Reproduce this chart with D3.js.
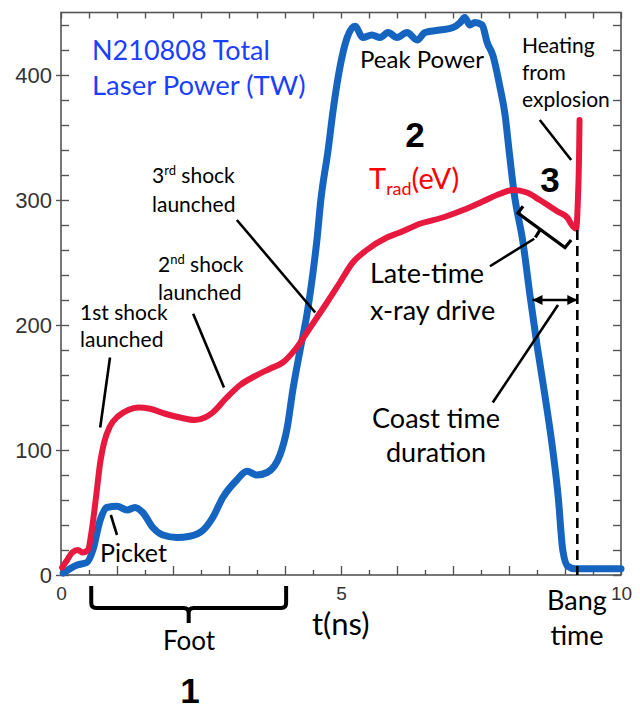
<!DOCTYPE html>
<html>
<head>
<meta charset="utf-8">
<script src="https://cdn.jsdelivr.net/npm/d3@7"></script>
<style>
  body { margin: 0; background: #fff; }
  svg { display: block; }
</style>
</head>
<body>
<svg id="chart" width="640" height="709"></svg>
<script>
// N210808 total laser power (TW) against time (ns)
const laserTime = [0.04, 0.29, 0.46, 0.57, 0.70, 0.82, 1.00, 1.18, 1.32, 1.46, 1.64, 1.82, 2.07, 2.30, 2.54, 2.71, 2.89, 3.14, 3.32, 3.50, 3.68, 3.91, 4.04, 4.14, 4.27, 4.39, 4.50, 4.57, 4.64, 4.77, 4.86, 4.98, 5.11, 5.25, 5.39, 5.55, 5.70, 5.84, 6.00, 6.18, 6.36, 6.50, 6.77, 7.00, 7.13, 7.21, 7.30, 7.39, 7.52, 7.61, 7.71, 7.84, 7.93, 8.00, 8.09, 8.25, 8.38, 8.50, 8.64, 8.77, 8.88, 8.96, 9.05, 9.18, 10.0];
const laserPower = [1.5, 8, 10, 20, 44, 54, 55, 52, 54, 50, 38, 32, 30, 31, 36, 46, 62, 76, 83, 80, 82, 96, 118, 148, 180, 208, 242, 268, 300, 340, 372, 406, 430, 439, 430, 432, 430, 434, 430, 434, 428, 434, 436, 438, 442, 446, 440, 442, 440, 426, 416, 390, 368, 340, 306, 266, 222, 184, 144, 104, 62, 20, 7, 5, 5];

// Radiation temperature Trad (eV) against time (ns)
const tradTime = [0.02, 0.11, 0.20, 0.30, 0.39, 0.48, 0.55, 0.63, 0.70, 0.77, 0.875, 1.02, 1.20, 1.375, 1.59, 1.86, 2.125, 2.39, 2.57, 2.71, 2.96, 3.20, 3.46, 3.73, 3.96, 4.21, 4.45, 4.75, 4.98, 5.21, 5.46, 5.82, 6.05, 6.41, 6.82, 7.18, 7.54, 7.84, 8.07, 8.32, 8.55, 8.86, 9.04, 9.14, 9.20, 9.23, 9.25, 9.26];
const tradValue = [6, 12, 18, 20, 18, 20, 36, 64, 90, 106, 119, 127, 132, 134, 133, 129, 126, 124, 126, 130, 142, 152, 159, 165, 170, 182, 198, 218, 234, 250, 260, 270, 274, 281, 286, 292, 299, 305, 308, 306, 300, 291, 286, 279, 277, 300, 332, 364];

// Axis ticks
const xLabelTicks = [0, 5, 10];
const yLabelTicks = [0, 100, 200, 300, 400];
const bangTime = 9.22;

const svg = d3.select("#chart");
const x = d3.scaleLinear().domain([0, 10]).range([61, 621]);
const y = d3.scaleLinear().domain([0, 450]).range([575, 12.5]);

const axisColor = "#555";
const labelFont = "'Liberation Sans', Arial, sans-serif";
const noteFont = "Lato, 'Open Sans', sans-serif";

// ---- axes: ticks on all four sides of the frame, pointing inward ----
function styleAxis(g) {
  g.select(".domain").remove();
  g.selectAll(".tick line").attr("stroke", axisColor).attr("stroke-width", 1.4);
  g.selectAll(".tick text")
    .attr("fill", "#333")
    .attr("font-family", labelFont);
}

const halfSteps = d3.range(0, 10.001, 0.5);
const wholeSteps = halfSteps.filter(d => Number.isInteger(d));
const minorSteps = halfSteps.filter(d => !Number.isInteger(d));
const vSteps = d3.range(0, 441, 20);

svg.append("g").attr("transform", `translate(0,${y(0)})`)
  .call(d3.axisBottom(x).tickValues(wholeSteps).tickSize(-9).tickFormat(""))
  .call(styleAxis);
svg.append("g").attr("transform", `translate(0,${y(0)})`)
  .call(d3.axisBottom(x).tickValues(minorSteps).tickSize(-5).tickFormat(""))
  .call(styleAxis);
svg.append("g").attr("transform", `translate(0,${y(0)})`)
  .call(d3.axisBottom(x).tickValues(xLabelTicks).tickSize(0).tickPadding(12).tickFormat(d3.format("d")))
  .call(styleAxis)
  .call(g => g.selectAll(".tick text").attr("font-size", 19));

svg.append("g").attr("transform", `translate(0,${y(450)})`)
  .call(d3.axisTop(x).tickValues(halfSteps).tickSize(-6).tickFormat(""))
  .call(styleAxis);

svg.append("g").attr("transform", `translate(${x(0)},0)`)
  .call(d3.axisLeft(y).tickValues(vSteps).tickSize(-8).tickFormat(""))
  .call(styleAxis);
svg.append("g").attr("transform", `translate(${x(0)},0)`)
  .call(d3.axisLeft(y).tickValues(yLabelTicks).tickSize(5).tickPadding(4).tickFormat(d3.format("d")))
  .call(styleAxis)
  .call(g => g.selectAll(".tick text").attr("font-size", 22));

svg.append("g").attr("transform", `translate(${x(10)},0)`)
  .call(d3.axisRight(y).tickValues(vSteps).tickSize(-8).tickFormat(""))
  .call(styleAxis);

// plot frame
svg.append("rect")
  .attr("x", x(0)).attr("y", y(450))
  .attr("width", x(10) - x(0)).attr("height", y(0) - y(450))
  .attr("fill", "none").attr("stroke", axisColor).attr("stroke-width", 1.6);

// ---- curves ----
const line = d3.line()
  .x(d => x(d[0]))
  .y(d => y(d[1]))
  .curve(d3.curveMonotoneX);

svg.append("path")
  .datum(d3.zip(laserTime, laserPower))
  .attr("d", line)
  .attr("fill", "none")
  .attr("stroke", "#1565c0")
  .attr("stroke-width", 7)
  .attr("stroke-linejoin", "round")
  .attr("stroke-linecap", "round");

svg.append("path")
  .datum(d3.zip(tradTime, tradValue))
  .attr("d", line)
  .attr("fill", "none")
  .attr("stroke", "#e8193f")
  .attr("stroke-width", 6)
  .attr("stroke-linejoin", "round")
  .attr("stroke-linecap", "round");

// ---- annotation leaders ----
function leader(t0, v0, t1, v1, w = 2.6) {
  svg.append("line")
    .attr("x1", x(t0)).attr("y1", y(v0))
    .attr("x2", x(t1)).attr("y2", y(v1))
    .attr("stroke", "#000").attr("stroke-width", w);
}
leader(3.14, 284, 4.54, 210);   // 3rd shock
leader(2.36, 209, 2.91, 150);   // 2nd shock
leader(0.875, 174, 0.70, 118);  // 1st shock
leader(0.89, 48, 1.00, 32);     // picket
leader(8.55, 364, 9.11, 332);   // heating from explosion
leader(7.66, 247, 8.45, 269);   // late-time x-ray drive
leader(7.71, 138, 8.875, 216);  // coast time

// bang time marker
svg.append("line")
  .attr("x1", x(bangTime)).attr("x2", x(bangTime))
  .attr("y1", y(276)).attr("y2", y(0))
  .attr("stroke", "#000").attr("stroke-width", 2.6)
  .attr("stroke-dasharray", "10,6");

// coast-time double arrow
const defs = svg.append("defs");
defs.append("marker")
  .attr("id", "arrow")
  .attr("viewBox", "0 0 10 10")
  .attr("refX", 10).attr("refY", 5)
  .attr("markerUnits", "userSpaceOnUse")
  .attr("markerWidth", 11).attr("markerHeight", 10)
  .attr("orient", "auto-start-reverse")
  .append("path").attr("d", "M0,0 L10,5 L0,10 z").attr("fill", "#000");

svg.append("line")
  .attr("x1", x(8.42)).attr("x2", x(bangTime))
  .attr("y1", y(220)).attr("y2", y(220))
  .attr("stroke", "#000").attr("stroke-width", 2.4)
  .attr("marker-start", "url(#arrow)")
  .attr("marker-end", "url(#arrow)");

// bracket under the late-time Trad decline
const bracket = d3.path();
bracket.moveTo(x(8.25), y(295));
bracket.lineTo(x(8.16), y(289.5));
bracket.lineTo(x(9.0), y(262));
bracket.lineTo(x(9.11), y(268));
bracket.moveTo(x(8.56), y(276.5));
bracket.lineTo(x(8.47), y(270));
svg.append("path").attr("d", bracket.toString())
  .attr("fill", "none").attr("stroke", "#000").attr("stroke-width", 3.2)
  .attr("stroke-linejoin", "miter");

// foot brace below the time axis
const f0 = x(0.54), f1 = x(4.02), fm = (f0 + f1) / 2;
const brace = d3.path();
brace.moveTo(f0, 586); brace.lineTo(f0, 603);
brace.quadraticCurveTo(f0, 608, f0 + 5, 608);
brace.lineTo(fm - 5, 608);
brace.quadraticCurveTo(fm, 608, fm, 613);
brace.lineTo(fm, 623);
brace.moveTo(fm, 613);
brace.quadraticCurveTo(fm, 608, fm + 5, 608);
brace.lineTo(f1 - 5, 608);
brace.quadraticCurveTo(f1, 608, f1, 603);
brace.lineTo(f1, 586);
svg.append("path").attr("d", brace.toString())
  .attr("fill", "none").attr("stroke", "#000").attr("stroke-width", 4);

// ---- text ----
function note(str, px, py, size, opts = {}) {
  return svg.append("text")
    .attr("x", px).attr("y", py)
    .attr("font-family", opts.font || noteFont)
    .attr("font-size", size)
    .attr("font-weight", opts.weight || "normal")
    .attr("fill", opts.fill || "#000")
    .attr("text-anchor", opts.anchor || "start")
    .text(str);
}

const titleBlue = "#1d3fff";
note("N210808 Total", 92, 60, 27, { fill: titleBlue });
note("Laser Power (TW)", 92, 95, 27.5, { fill: titleBlue });

note("Peak Power", 360, 68, 24);
note("2", 415, 147, 35, { font: labelFont, weight: "bold", anchor: "middle" });
note("3", 550, 192, 35, { font: labelFont, weight: "bold", anchor: "middle" });
note("1", 190, 703, 35, { font: labelFont, weight: "bold", anchor: "middle" });

const trad = note("T", 369, 189, 29, { fill: "#ff0000" });
trad.append("tspan").attr("font-size", 18).attr("dy", 6).text("rad");
trad.append("tspan").attr("font-size", 29).attr("dy", -6).text("(eV)");

note("Heating", 522, 53, 21);
note("from", 522, 80, 21);
note("explosion", 522, 107, 21);

const s3 = note("3", 152, 183, 21);
s3.append("tspan").attr("font-size", 13).attr("dy", -8).text("rd");
s3.append("tspan").attr("dy", 8).text(" shock");
note("launched", 152, 212, 21);

const s2 = note("2", 158, 272, 21);
s2.append("tspan").attr("font-size", 13).attr("dy", -8).text("nd");
s2.append("tspan").attr("dy", 8).text(" shock");
note("launched", 158, 300, 21);

note("1st shock", 80, 320, 21);
note("launched", 80, 347, 21);

note("Picket", 100, 562, 25);
note("Foot", 189, 650, 26, { anchor: "middle" });
note("t(ns)", 312, 635, 31);

note("Bang", 577, 610, 27, { anchor: "middle" });
note("time", 577, 645, 27, { anchor: "middle" });

note("Late-time", 370, 283, 27);
note("x-ray drive", 370, 320, 27);
note("Coast time", 436, 428, 27, { anchor: "middle" });
note("duration", 436, 462, 27, { anchor: "middle" });
</script>
</body>
</html>
